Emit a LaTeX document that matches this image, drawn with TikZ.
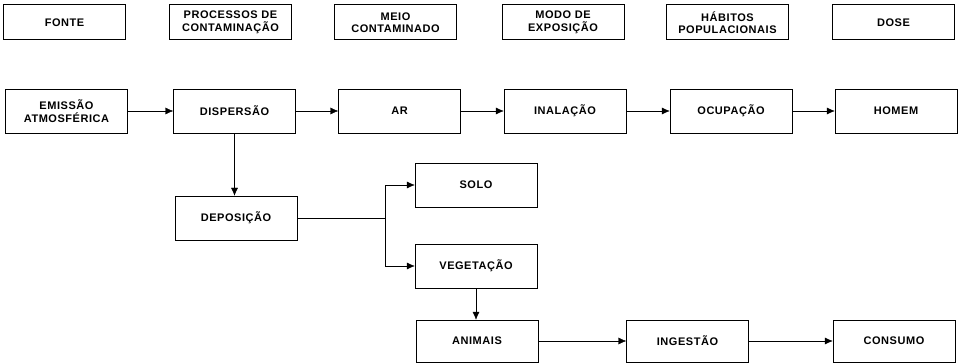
\documentclass[tikz,border=0pt]{standalone}
\usepackage{fontspec}
\setmainfont[LetterSpace=5]{Liberation Sans}
\usetikzlibrary{arrows.meta}
\tikzstyle{caixa}=[rectangle, draw, inner sep=2pt, minimum width=122pt, minimum height=44pt, align=center, font=\fontsize{11}{12.5}\selectfont\bfseries]
\tikzstyle{titulo}=[caixa, minimum height=35pt, line width=1pt]
\newcommand{\caixa}{\node[caixa]}
\newcommand{\titulo}{\node[titulo]}

\begin{document}
\begin{tikzpicture}[x=1pt, y=-1pt
    ,every edge/.style={draw, -{Latex[length=8pt,width=7pt]}}
]
\useasboundingbox (0,0) rectangle (963,363);
% cabecalho
\titulo (fonte) at (64.5, 22.5) {FONTE};
\titulo (proc)  at (230.5, 22.5) {PROCESSOS DE\\CONTAMINAÇÃO};
\titulo (meio)  at (395.5, 22.5) {MEIO\\CONTAMINADO};
\titulo (modo)  at (563, 22.5) {MODO DE\\EXPOSIÇÃO};
\titulo (hab)   at (727.5, 22.5) {HÁBITOS\\POPULACIONAIS};
\titulo (dose)  at (893.5, 22.5) {DOSE};
% cadeia
\caixa (emis) at (66.5, 111) {EMISSÃO\\ATMOSFÉRICA};
\caixa (disp) at (234.5, 111) {DISPERSÃO};
\caixa (ar)   at (399.5, 111) {AR};
\caixa (inal) at (565, 111) {INALAÇÃO};
\caixa (ocup) at (731, 111) {OCUPAÇÃO};
\caixa (homem) at (896, 111) {HOMEM};
\caixa (dep)  at (236, 218) {DEPOSIÇÃO};
\caixa (solo) at (476, 185) {SOLO};
\caixa (veg)  at (476, 266) {VEGETAÇÃO};
\caixa[minimum height=42pt] (anim) at (477, 341) {ANIMAIS};
\caixa[minimum height=42pt] (ing)  at (687.5, 341) {INGESTÃO};
\caixa[minimum height=42pt] (cons) at (894, 341) {CONSUMO};
\coordinate (ramo) at (385, 218);
\path
(emis) edge (disp)
(disp) edge (ar)
(ar) edge (inal)
(inal) edge (ocup)
(ocup) edge (homem)
(disp.south) edge (disp.south |- dep.north)
(veg.south) edge (veg.south |- anim.north)
(anim) edge (ing)
(ing) edge (cons)
;
\draw (dep) -- (ramo);
\draw[-{Latex[length=8pt,width=7pt]}] (ramo) |- (solo);
\draw[-{Latex[length=8pt,width=7pt]}] (ramo) |- (veg);
\end{tikzpicture}
\end{document}
